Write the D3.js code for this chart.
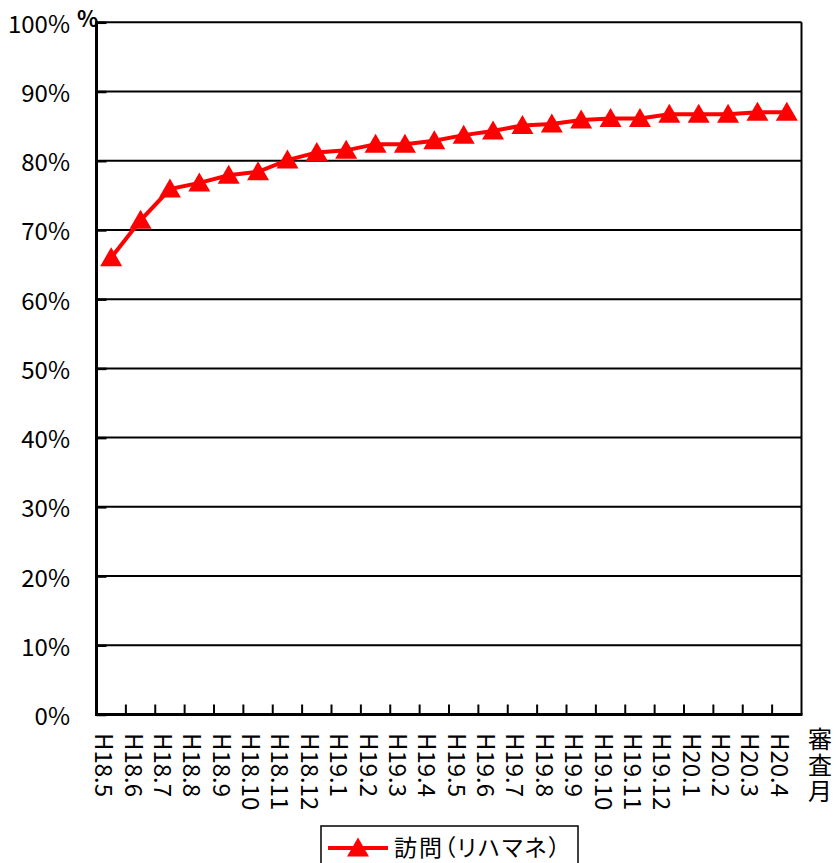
<!DOCTYPE html>
<html>
<head>
<meta charset="utf-8">
<script src="https://cdn.jsdelivr.net/npm/d3@7"></script>
<style>
    body { margin: 0; background: #fff; }
    text { font-family: "Noto Sans CJK JP", "Noto Sans", sans-serif; fill: #000; }
</style>
</head>
<body>
<svg id="chart" width="836" height="863"></svg>
<script>
// review months (Heisei year.month)
const months = ["H18.5", "H18.6", "H18.7", "H18.8", "H18.9", "H18.10", "H18.11", "H18.12",
    "H19.1", "H19.2", "H19.3", "H19.4", "H19.5", "H19.6", "H19.7", "H19.8", "H19.9",
    "H19.10", "H19.11", "H19.12", "H20.1", "H20.2", "H20.3", "H20.4"];
// 訪問（リハマネ） percentage
const values = [66.0, 71.4, 75.9, 76.8, 77.9, 78.4, 80.1, 81.2, 81.5, 82.4, 82.4, 82.9,
    83.7, 84.3, 85.1, 85.3, 85.9, 86.1, 86.1, 86.7, 86.7, 86.7, 87.0, 87.0];
const yTicks = [0, 10, 20, 30, 40, 50, 60, 70, 80, 90, 100];
const seriesName = "訪問（リハマネ）";
const xTitle = "審査月";

const svg = d3.select("#chart");
const plotLeft = 96.5, plotRight = 801.5, plotTop = 22.3, plotBottom = 714.5;

const x = d3.scaleBand().domain(months).range([plotLeft, plotRight]);
const y = d3.scaleLinear().domain([0, 100]).range([plotBottom, plotTop]);

// gridlines
svg.append("g")
    .selectAll("line")
    .data(yTicks.filter((d) => d > 0))
    .enter()
    .append("line")
    .attr("x1", plotLeft)
    .attr("x2", plotRight)
    .attr("y1", (d) => y(d))
    .attr("y2", (d) => y(d))
    .style("stroke", "#000")
    .style("stroke-width", "2px");

// left axis, ticks pointing inward
const yAxis = svg.append("g")
    .attr("transform", `translate(${plotLeft},0)`)
    .call(d3.axisRight(y).tickValues(yTicks).tickSize(10).tickFormat(""));
yAxis.select(".domain").remove();
yAxis.selectAll("line").style("stroke", "#000").style("stroke-width", "2.5px");

svg.append("g")
    .selectAll("text")
    .data(yTicks)
    .enter()
    .append("text")
    .attr("x", 70)
    .attr("y", (d) => y(d))
    .attr("text-anchor", "end")
    .attr("dominant-baseline", "central")
    .style("font-size", "24px")
    .text((d) => d + "%");

// bottom axis ticks at category boundaries
const boundaries = months.slice(1).map((m) => x(m));
svg.append("g")
    .selectAll("line")
    .data(boundaries)
    .enter()
    .append("line")
    .attr("x1", (d) => d)
    .attr("x2", (d) => d)
    .attr("y1", plotBottom)
    .attr("y2", plotBottom - 10)
    .style("stroke", "#000")
    .style("stroke-width", "2px");

// frame lines
svg.append("line").attr("x1", plotRight).attr("x2", plotRight).attr("y1", plotTop).attr("y2", plotBottom)
    .style("stroke", "#000").style("stroke-width", "2px");
svg.append("line").attr("x1", plotLeft).attr("x2", plotLeft).attr("y1", plotTop - 1).attr("y2", plotBottom + 1.5)
    .style("stroke", "#000").style("stroke-width", "3px");
svg.append("line").attr("x1", plotLeft - 1.5).attr("x2", plotRight + 1).attr("y1", plotBottom).attr("y2", plotBottom)
    .style("stroke", "#000").style("stroke-width", "3px");

// x labels, vertical (rotated clockwise)
svg.append("g")
    .selectAll("text")
    .data(months)
    .enter()
    .append("text")
    .attr("transform", (d) => `translate(${x(d) + x.bandwidth() / 2 - 16},733) rotate(90)`)
    .style("font-size", "24px")
    .text((d) => d);

// x title, vertical writing
svg.append("text")
    .attr("x", 820)
    .attr("y", 727)
    .style("writing-mode", "vertical-rl")
    .style("text-orientation", "upright")
    .style("font-size", "24px")
    .style("letter-spacing", "2px")
    .text(xTitle);

// unit label
svg.append("text")
    .attr("x", 77)
    .attr("y", 27)
    .style("font-size", "22px")
    .style("font-weight", "bold")
    .text("%");

// series line
const line = d3.line()
    .x((d, i) => x(months[i]) + x.bandwidth() / 2)
    .y((d) => y(d));

svg.append("path")
    .datum(values)
    .attr("d", line)
    .style("fill", "none")
    .style("stroke", "#ff0000")
    .style("stroke-width", "4px");

const tri = "M0,-10.5L11,8.5L-11,8.5Z";
svg.append("g")
    .selectAll("path")
    .data(values)
    .enter()
    .append("path")
    .attr("d", tri)
    .attr("transform", (d, i) => `translate(${x(months[i]) + x.bandwidth() / 2},${y(d)})`)
    .style("fill", "#ff0000");

// legend
const legend = svg.append("g");
legend.append("rect")
    .attr("x", 321)
    .attr("y", 826)
    .attr("width", 257)
    .attr("height", 50)
    .style("fill", "#fff")
    .style("stroke", "#000")
    .style("stroke-width", "1.5px");
legend.append("line")
    .attr("x1", 328).attr("x2", 388).attr("y1", 848).attr("y2", 848)
    .style("stroke", "#ff0000").style("stroke-width", "4px");
legend.append("path")
    .attr("d", tri)
    .attr("transform", "translate(358,848)")
    .style("fill", "#ff0000");
legend.append("text")
    .attr("x", 394)
    .attr("y", 846)
    .attr("dominant-baseline", "central")
    .attr("textLength", 166)
    .attr("lengthAdjust", "spacing")
    .style("font-size", "23px")
    .style("font-feature-settings", "'palt'")
    .text(seriesName);
</script>
</body>
</html>
